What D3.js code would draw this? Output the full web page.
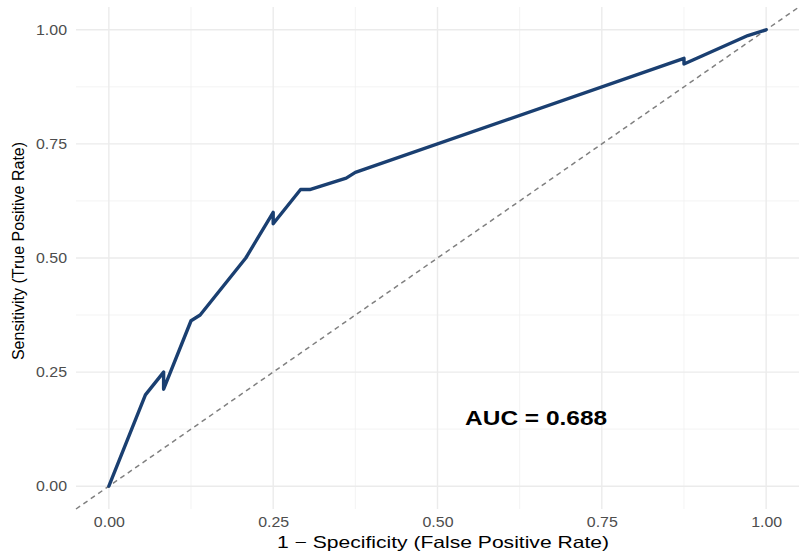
<!DOCTYPE html>
<html>
<head>
<meta charset="utf-8">
<script src="https://cdn.jsdelivr.net/npm/d3@7"></script>
<style>
  body { margin: 0; background: #fff; }
  text { font-family: "Liberation Sans", Arial, sans-serif; }
</style>
</head>
<body>
<svg id="chart" width="810" height="557"></svg>
<script>
// ROC curve points
var fpr = [0, 0.0556, 0.0833, 0.0833, 0.125, 0.1389, 0.2083, 0.25, 0.25, 0.2917, 0.3056, 0.3611, 0.375, 0.875, 0.875, 0.9722, 1];
var tpr = [0, 0.2, 0.25, 0.2125, 0.3625, 0.375, 0.5, 0.6, 0.575, 0.65, 0.65, 0.675, 0.6875, 0.9375, 0.925, 0.9875, 1];
var tickValues = [0, 0.25, 0.5, 0.75, 1];
var minorValues = [0.125, 0.375, 0.625, 0.875];
var aucLabel = "AUC = 0.688";

var svg = d3.select("#chart");
var panel = {left: 76, right: 799, top: 7, bottom: 509};

var x = d3.scaleLinear().domain([-0.05, 1.05]).range([panel.left, panel.right]);
var y = d3.scaleLinear().domain([-0.05, 1.05]).range([panel.bottom, panel.top]);

var grid = svg.append("g");
// minor grid
grid.selectAll(".vmin").data(minorValues).enter().append("line")
    .attr("x1", function(d){ return x(d); }).attr("x2", function(d){ return x(d); })
    .attr("y1", panel.top).attr("y2", panel.bottom)
    .attr("stroke", "#f0f0f0").attr("stroke-width", 0.8);
grid.selectAll(".hmin").data(minorValues).enter().append("line")
    .attr("y1", function(d){ return y(d); }).attr("y2", function(d){ return y(d); })
    .attr("x1", panel.left).attr("x2", panel.right)
    .attr("stroke", "#f0f0f0").attr("stroke-width", 0.8);
// major grid
grid.selectAll(".vmaj").data(tickValues).enter().append("line")
    .attr("x1", function(d){ return x(d); }).attr("x2", function(d){ return x(d); })
    .attr("y1", panel.top).attr("y2", panel.bottom)
    .attr("stroke", "#ebebeb").attr("stroke-width", 1.4);
grid.selectAll(".hmaj").data(tickValues).enter().append("line")
    .attr("y1", function(d){ return y(d); }).attr("y2", function(d){ return y(d); })
    .attr("x1", panel.left).attr("x2", panel.right)
    .attr("stroke", "#ebebeb").attr("stroke-width", 1.4);

// diagonal reference line
svg.append("line")
    .attr("x1", x(-0.05)).attr("y1", y(-0.05))
    .attr("x2", x(1.05)).attr("y2", y(1.05))
    .attr("stroke", "#808080").attr("stroke-width", 1.5)
    .attr("stroke-dasharray", "5,4");

// ROC curve
var pts = fpr.map(function(d, i){ return [d, tpr[i]]; });
var line = d3.line()
    .x(function(d){ return x(d[0]); })
    .y(function(d){ return y(d[1]); });
svg.append("path")
    .datum(pts)
    .attr("d", line)
    .attr("fill", "none")
    .attr("stroke", "#1a3f71")
    .attr("stroke-width", 3.4)
    .attr("stroke-linejoin", "round")
    .attr("stroke-linecap", "round");

// axes (ticks only, no domain)
var fmt = d3.format(".2f");
var xAxis = svg.append("g")
    .attr("transform", "translate(0," + panel.bottom + ")")
    .call(d3.axisBottom(x).tickValues(tickValues).tickFormat(fmt).tickSize(0).tickPadding(8));
var yAxis = svg.append("g")
    .attr("transform", "translate(" + panel.left + ",0)")
    .call(d3.axisLeft(y).tickValues(tickValues).tickFormat(fmt).tickSize(0).tickPadding(9));
[xAxis, yAxis].forEach(function(a){
    a.select(".domain").remove();
    a.selectAll("text")
        .attr("fill", "#4d4d4d")
        .attr("textLength", 31)
        .attr("lengthAdjust", "spacingAndGlyphs")
        .style("font-size", "14px")
        .style("font-family", "'Liberation Sans', Arial, sans-serif");
});

// axis titles (reference text is stretched horizontally)
svg.append("text")
    .attr("x", 277)
    .attr("y", 548)
    .attr("textLength", 332)
    .attr("lengthAdjust", "spacingAndGlyphs")
    .style("font-size", "16.5px")
    .attr("fill", "#000")
    .text("1 \u2212 Specificity (False Positive Rate)");
svg.append("text")
    .attr("transform", "translate(24,251) rotate(-90)")
    .attr("text-anchor", "middle")
    .style("font-size", "16px")
    .attr("fill", "#000")
    .text("Sensitivity (True Positive Rate)");

// AUC annotation
var aucW = 142;
svg.append("text")
    .attr("x", x(0.65) - aucW / 2)
    .attr("y", y(0.15))
    .attr("dy", "0.35em")
    .attr("textLength", aucW)
    .attr("lengthAdjust", "spacingAndGlyphs")
    .style("font-size", "20.5px")
    .style("font-weight", "bold")
    .attr("fill", "#000")
    .text(aucLabel);
</script>
</body>
</html>
